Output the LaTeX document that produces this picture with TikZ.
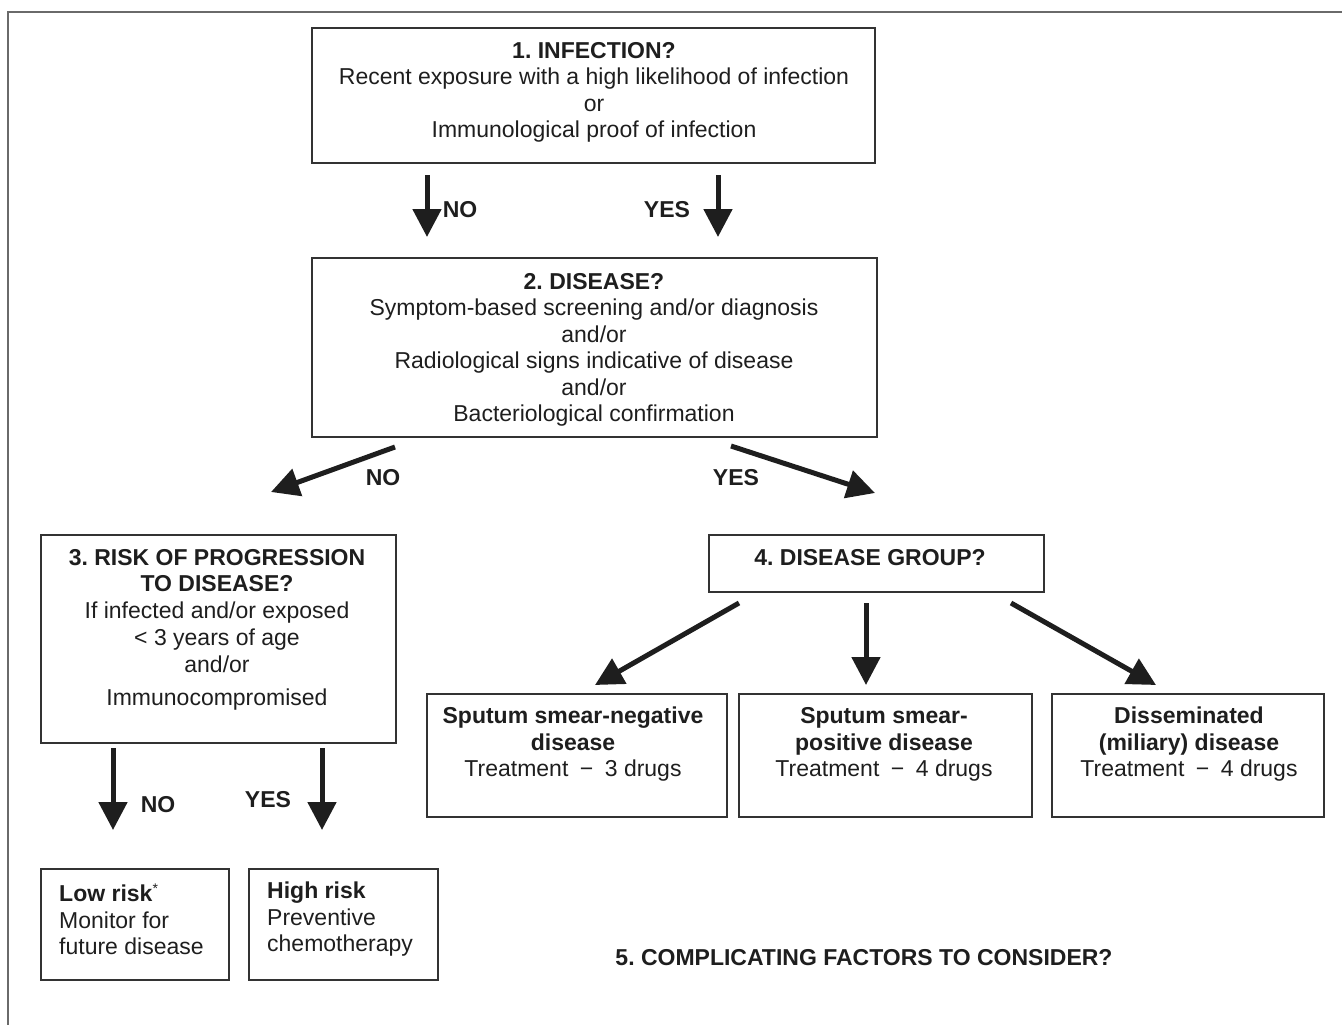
\documentclass[tikz,border=0pt]{standalone}
\usepackage{fontspec}
\setmainfont{Liberation Sans}
\usetikzlibrary{arrows.meta}
\definecolor{ink}{HTML}{1E1E1E}
\definecolor{boxline}{HTML}{333333}
\definecolor{framecol}{HTML}{6A6A6A}
\frenchspacing
\begin{document}
\begin{tikzpicture}[x=1pt,y=-1pt,
  box/.style={draw=boxline, line width=1.8pt, inner sep=0pt},
  txt/.style={text=ink, font=\fontsize{23}{26.5}\selectfont, align=center, inner sep=0pt},
  lbl/.style={text=ink, font=\fontsize{23}{26.5}\selectfont\bfseries, inner sep=0pt},
  arr/.style={draw=ink, line width=5pt, -{Triangle[length=28pt,width=28pt]}}]
\useasboundingbox (0,0) rectangle (1342,1025);
% outer frame (partly visible)
\coordinate (fbl) at (8,1025);
\coordinate (ftl) at (8,12);
\coordinate (ftr) at (1342,12);
\draw[framecol, line width=2pt] (fbl) -- (ftl) -- (ftr);

% boxes
\node[box, minimum width=563pt, minimum height=135pt] (b1) at (593.5,95.5) {};
\node[box, minimum width=565pt, minimum height=179pt] (b2) at (594.5,347.5) {};
\node[box, minimum width=355pt, minimum height=208pt] (b3) at (218.5,639) {};
\node[box, minimum width=335pt, minimum height=57pt] (b4) at (876.5,563.5) {};
\node[box, minimum width=300pt, minimum height=123pt] (b5a) at (577,755.5) {};
\node[box, minimum width=293pt, minimum height=123pt] (b5b) at (885.5,755.5) {};
\node[box, minimum width=272pt, minimum height=123pt] (b5c) at (1188,755.5) {};
\node[box, minimum width=188pt, minimum height=111pt] (blow) at (135,924.5) {};
\node[box, minimum width=189pt, minimum height=111pt] (bhigh) at (343.5,924.5) {};

% texts
\node[txt] (t1) at (594,92.5) {\textbf{1. INFECTION?}\\Recent exposure with a high likelihood of infection\\or\\Immunological proof of infection};
\node[txt] (t2) at (594,350) {\textbf{2. DISEASE?}\\Symptom-based screening and/or diagnosis\\and/or\\Radiological signs indicative of disease\\and/or\\Bacteriological confirmation};
\node[txt, anchor=north] (t3) at (217,549) {\textbf{3. RISK OF PROGRESSION}\\\textbf{TO DISEASE?}\\If infected and/or exposed\\[1pt]\textless{} 3 years of age\\and/or\\[7pt]Immunocompromised};
\node[txt] (t4) at (870,558) {\textbf{4. DISEASE GROUP?}};
\node[txt] (t5a) at (573,744.5) {\textbf{Sputum smear-negative}\\\textbf{disease}\\Treatment\enspace−\enspace3 drugs};
\node[txt] (t5b) at (884,744.5) {\textbf{Sputum smear-}\\\textbf{positive disease}\\Treatment\enspace−\enspace4 drugs};
\node[txt] (t5c) at (1189,744.5) {\textbf{Disseminated}\\\textbf{(miliary) disease}\\Treatment\enspace−\enspace4 drugs};
\node[txt, align=left, anchor=west] (tlow) at (59,919.5) {\textbf{Low risk}\raisebox{8pt}{\fontsize{14}{14}\selectfont *}\\Monitor for\\future disease};
\node[txt, align=left, anchor=west] (thigh) at (267,919.5) {\textbf{High risk}\\Preventive\\chemotherapy};
\node[lbl] (t5) at (864,958) {5. COMPLICATING FACTORS TO CONSIDER?};

% labels
\node[lbl] (l1) at (460,210) {NO};
\node[lbl] (l2) at (667,210) {YES};
\node[lbl] (l3) at (383,478) {NO};
\node[lbl] (l4) at (736,478) {YES};
\node[lbl] (l5) at (158,805) {NO};
\node[lbl] (l6) at (268,800) {YES};

% arrow end points
\coordinate (a1s) at (427,175); \coordinate (a1e) at (427,237);
\coordinate (a2s) at (718,175); \coordinate (a2e) at (718,237);
\coordinate (a3s) at (395,447); \coordinate (a3e) at (271,492);
\coordinate (a4s) at (731,446); \coordinate (a4e) at (875,493);
\coordinate (a5s) at (739,603); \coordinate (a5e) at (595,685);
\coordinate (a6s) at (866,603); \coordinate (a6e) at (866,685);
\coordinate (a7s) at (1011,603); \coordinate (a7e) at (1156,685);
\coordinate (a8s) at (113,748); \coordinate (a8e) at (113,830);
\coordinate (a9s) at (322,748); \coordinate (a9e) at (322,830);

\draw[arr] (a1s) -- (a1e);
\draw[arr] (a2s) -- (a2e);
\draw[arr] (a3s) -- (a3e);
\draw[arr] (a4s) -- (a4e);
\draw[arr] (a5s) -- (a5e);
\draw[arr] (a6s) -- (a6e);
\draw[arr] (a7s) -- (a7e);
\draw[arr] (a8s) -- (a8e);
\draw[arr] (a9s) -- (a9e);
\end{tikzpicture}
\end{document}
